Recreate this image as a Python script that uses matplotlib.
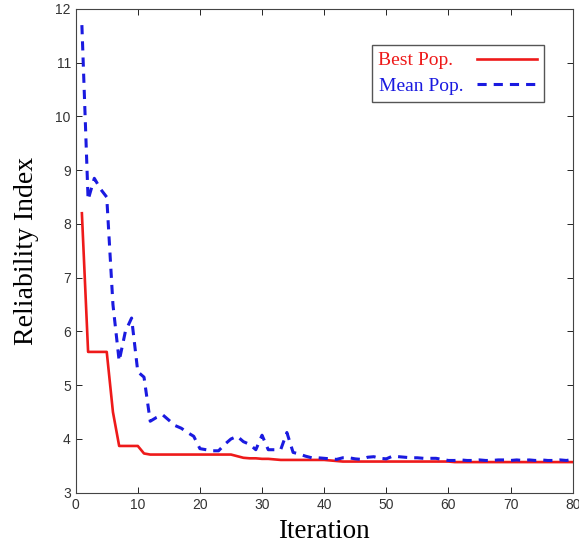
import matplotlib.pyplot as plt

# iteracion 1..80
it = list(range(1, 81))

best = [8.2, 5.62, 5.62, 5.62, 5.62, 4.5, 3.87, 3.87, 3.87, 3.87,
        3.73, 3.71, 3.71, 3.71, 3.71, 3.71, 3.71, 3.71, 3.71, 3.71,
        3.71, 3.71, 3.71, 3.71, 3.71, 3.68, 3.65, 3.64, 3.64, 3.63,
        3.63, 3.62, 3.61, 3.61, 3.61, 3.61, 3.61, 3.61, 3.61, 3.61,
        3.6, 3.59, 3.58, 3.58, 3.58, 3.58, 3.58, 3.58, 3.58, 3.58,
        3.58, 3.58, 3.58, 3.58, 3.58, 3.58, 3.58, 3.58, 3.58, 3.58,
        3.57, 3.57, 3.57, 3.57, 3.57, 3.57, 3.57, 3.57, 3.57, 3.57,
        3.57, 3.57, 3.57, 3.57, 3.57, 3.57, 3.57, 3.57, 3.57, 3.57]

mean = [11.7, 8.45, 8.85, 8.65, 8.5, 6.5, 5.45, 6.0, 6.25, 5.25,
        5.15, 4.33, 4.4, 4.45, 4.35, 4.25, 4.2, 4.12, 4.05, 3.82,
        3.8, 3.78, 3.78, 3.9, 4.0, 4.05, 3.95, 3.9, 3.8, 4.07,
        3.8, 3.8, 3.8, 4.12, 3.75, 3.72, 3.68, 3.65, 3.65, 3.64,
        3.63, 3.62, 3.65, 3.65, 3.63, 3.62, 3.66, 3.67, 3.64, 3.63,
        3.68, 3.67, 3.66, 3.65, 3.65, 3.64, 3.64, 3.64, 3.62, 3.6,
        3.6, 3.61, 3.6, 3.6, 3.61, 3.6, 3.6, 3.61, 3.61, 3.6,
        3.61, 3.6, 3.61, 3.6, 3.61, 3.6, 3.6, 3.61, 3.6, 3.62]

xticks = [0, 10, 20, 30, 40, 50, 60, 70, 80]
yticks = [3, 4, 5, 6, 7, 8, 9, 10, 11, 12]

fig = plt.figure(figsize=(5.79, 5.52), dpi=100)
ax = fig.add_axes([0.1307, 0.1074, 0.8583, 0.8763])

ax.plot(it, best, color="#ee1a1a", lw=1.9, label="Best Pop.  ")
ax.plot(it, mean, color="#1a1ae0", lw=2.2, dashes=(3, 2.3), label="Mean Pop.")

ax.set_xlim(0, 80)
ax.set_ylim(3, 12)
ax.set_xticks(xticks)
ax.set_yticks(yticks)
ax.tick_params(direction="in", top=True, right=True, labelsize=10, length=4,
               width=0.6, labelcolor="#333333")
for lab in ax.get_xticklabels() + ax.get_yticklabels():
    lab.set_family("Liberation Sans")
for s in ax.spines.values():
    s.set_linewidth(0.8)
    s.set_color("#444444")

ax.set_xlabel("Iteration", family="Liberation Serif", fontsize=19.5, labelpad=5)
ax.set_ylabel("Reliability Index", family="Liberation Serif", fontsize=20, labelpad=12)

leg = ax.legend(loc="upper right", bbox_to_anchor=(0.942, 0.9256), borderaxespad=0,
                markerfirst=False, prop={"family": "Liberation Serif", "size": 14},
                handlelength=3.1, fancybox=False, framealpha=1, borderpad=0.35,
                labelspacing=0.4, handletextpad=0.7)
leg.get_frame().set_edgecolor("#555555")
leg.get_frame().set_linewidth(1.0)
leg.get_texts()[0].set_color("#ee1a1a")
leg.get_texts()[1].set_color("#1a1ae0")

fig.savefig("out.png", dpi=100)
